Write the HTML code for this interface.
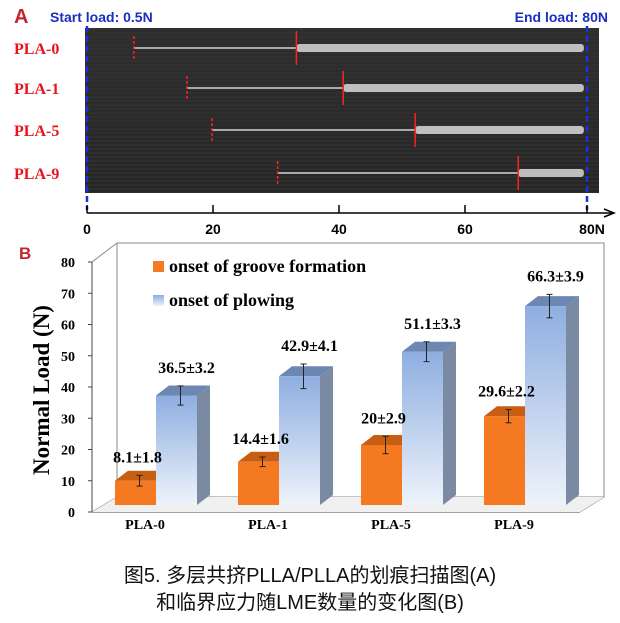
<!DOCTYPE html>
<html><head><meta charset="utf-8"><style>
body{margin:0;background:#fff;width:620px;height:623px;overflow:hidden;position:relative}
svg{position:absolute;left:0;top:0}
</style></head><body>
<svg width="620" height="623" viewBox="0 0 620 623">
<defs>
<linearGradient id="bg" x1="0" y1="0" x2="0" y2="1"><stop offset="0" stop-color="#8eaee0"/><stop offset="1" stop-color="#eef3fb"/></linearGradient>
<linearGradient id="img" x1="0" y1="0" x2="0" y2="1"><stop offset="0" stop-color="#2e2e2e"/><stop offset="1" stop-color="#262626"/></linearGradient>
<pattern id="stripes" width="4" height="4" patternUnits="userSpaceOnUse"><rect width="4" height="2" fill="#333"/></pattern>
</defs>
<g>
<text x="14" y="23" font-family="Liberation Sans, sans-serif" font-weight="bold" font-size="20" fill="#c0282d">A</text>
<text x="50" y="22" font-family="Liberation Sans, sans-serif" font-weight="bold" font-size="14" fill="#1a2fc0">Start load: 0.5N</text>
<text x="608" y="22" text-anchor="end" font-family="Liberation Sans, sans-serif" font-weight="bold" font-size="14" fill="#1a2fc0">End load: 80N</text>
<rect x="85" y="28" width="514" height="165" fill="url(#img)"/>
<rect x="85" y="28" width="514" height="165" fill="url(#stripes)" opacity="0.5"/>
<g id="scratches"></g>
<line x1="87" y1="26" x2="87" y2="210" stroke="#1a2fe0" stroke-width="2.5" stroke-dasharray="6,4"/>
<line x1="587" y1="26" x2="587" y2="210" stroke="#1a2fe0" stroke-width="2.5" stroke-dasharray="6,4"/>
<g font-family="Liberation Sans, sans-serif" font-weight="bold" font-size="14" fill="#000">
<line x1="87" y1="213" x2="612" y2="213" stroke="#000" stroke-width="1.5"/>
<path d="M604,209 L614,213 L604,217" fill="none" stroke="#000" stroke-width="1.5"/>
<line x1="87" y1="205" x2="87" y2="213" stroke="#000" stroke-width="1.5"/>
<line x1="213" y1="205" x2="213" y2="213" stroke="#000" stroke-width="1.5"/>
<line x1="339" y1="205" x2="339" y2="213" stroke="#000" stroke-width="1.5"/>
<line x1="465" y1="205" x2="465" y2="213" stroke="#000" stroke-width="1.5"/>
<line x1="587" y1="205" x2="587" y2="213" stroke="#000" stroke-width="1.5"/>
<text x="87" y="234" text-anchor="middle">0</text>
<text x="213" y="234" text-anchor="middle">20</text>
<text x="339" y="234" text-anchor="middle">40</text>
<text x="465" y="234" text-anchor="middle">60</text>
<text x="592" y="234" text-anchor="middle">80N</text>
</g>
</g>
<g>
<text x="19" y="259" font-family="Liberation Sans, sans-serif" font-weight="bold" font-size="17" fill="#c0282d">B</text>
<g stroke="#888" stroke-width="1" fill="none">
<path d="M117,243 L604,243 L604,497 L117,497 Z"/>
<line x1="92" y1="262" x2="117" y2="243"/>
<line x1="92" y1="512" x2="117" y2="497"/>
<line x1="580" y1="512" x2="604" y2="497"/>
<line x1="92" y1="262" x2="92" y2="512" stroke="#444"/>
<line x1="92" y1="512" x2="580" y2="512" stroke="#444"/>
</g>
<path d="M92,512 L117,497 L604,497 L580,512 Z" fill="#f0f0f0"/>
<g id="yaxis" font-family="Liberation Serif, serif" font-weight="bold" font-size="14"></g>
<text transform="translate(49,390) rotate(-90)" text-anchor="middle" font-family="Liberation Serif, serif" font-weight="bold" font-size="23">Normal Load (N)</text>
<g id="bars"></g>
<g id="xlabels" font-family="Liberation Serif, serif" font-weight="bold" font-size="14"></g>
<g font-family="Liberation Serif, serif" font-weight="bold" font-size="18">
<rect x="153" y="261" width="11" height="11" fill="#f47920"/>
<text x="169" y="272">onset of groove formation</text>
<rect x="153" y="295" width="11" height="11" fill="url(#bg)"/>
<text x="169" y="306">onset of plowing</text>
</g>
</g>
<g font-family="Liberation Sans, 'Noto Sans CJK SC', sans-serif" font-size="20" text-anchor="middle" fill="#111">
<text x="310" y="582">图5. 多层共挤PLLA/PLLA的划痕扫描图(A)</text>
<text x="310" y="609">和临界应力随LME数量的变化图(B)</text>
</g>
</svg>
<script>
const categories=["PLA-0","PLA-1","PLA-5","PLA-9"];
const grooveValues=[8.1,14.4,20,29.6];
const grooveErrors=[1.8,1.6,2.9,2.2];
const plowValues=[36.5,42.9,51.1,66.3];
const plowErrors=[3.2,4.1,3.3,3.9];
const yTicks=[0,10,20,30,40,50,60,70,80];
const grooveStartLoad=[7.5,16,20,30.5];
const plowStartLoad=[33.5,41,52.5,69];
const NS="http://www.w3.org/2000/svg";
function mk(tag,attrs,parent){const e=document.createElementNS(NS,tag);for(const k in attrs)e.setAttribute(k,attrs[k]);parent.appendChild(e);return e;}
const ax=v=>87+v*(587-87)/80;
const rowY=[48,88,130,173];
const sc=document.getElementById('scratches');
categories.forEach((c,i)=>{
  const y=rowY[i],x0=ax(grooveStartLoad[i]),x1=ax(plowStartLoad[i]),xe=ax(79.5);
  const t=mk('text',{x:14,y:y+6,'font-family':'Liberation Serif, serif','font-weight':'bold','font-size':'16',fill:'#e8141b'},sc);
  
  
  t.textContent=c;
  const thin=mk('line',{x1:x0,y1:y,x2:x1,y2:y,stroke:'#aaa','stroke-width':2},sc);
  
  
  const thick=mk('rect',{x:x1,y:y-4,width:xe-x1,height:8,fill:'#cfcfcf',rx:3,opacity:0.9},sc);
  
  
  const d=mk('line',{x1:x0,y1:y-12,x2:x0,y2:y+12,stroke:'#ff2020','stroke-width':1.5,'stroke-dasharray':'3,2'},sc);
  
  
  const s=mk('line',{x1:x1,y1:y-17,x2:x1,y2:y+17,stroke:'#ff2020','stroke-width':1.5},sc);
  
  
});
const base=505,k=3.0,dx=13,dy=-10,bw=41;
const yv=v=>base-v*k;
const tickY=v=>512-v*3.125;
const ya=document.getElementById('yaxis');
yTicks.forEach(v=>{
  const t=mk('text',{x:75,y:tickY(v)+5,'text-anchor':'end'},ya);
  
  
  t.textContent=v;
  mk('line',{x1:88,y1:tickY(v),x2:92,y2:tickY(v),stroke:'#444'},ya);
});
const bars=document.getElementById('bars');
const xl=document.getElementById('xlabels');
function bar3d(x,v,front,top,side,name){
  const y=yv(v),g=mk('g',{},bars);
  
  
  mk('path',{d:`M${x+bw},${y} L${x+bw+dx},${y+dy} L${x+bw+dx},${base+dy} L${x+bw},${base} Z`,fill:side},g);
  mk('path',{d:`M${x},${y} L${x+bw},${y} L${x+bw+dx},${y+dy} L${x+dx},${y+dy} Z`,fill:top},g);
  mk('rect',{x:x,y:y,width:bw,height:base-y,fill:front},g);
}
function err(cx,v,e){
  const g=mk('g',{stroke:'#222','stroke-width':1},bars);
  
  
  mk('line',{x1:cx,y1:yv(v-e),x2:cx,y2:yv(v+e)},g);
  mk('line',{x1:cx-3,y1:yv(v-e),x2:cx+3,y2:yv(v-e)},g);
  mk('line',{x1:cx-3,y1:yv(v+e),x2:cx+3,y2:yv(v+e)},g);
}
function lab(cx,v,e,txt){
  const t=mk('text',{x:cx,y:yv(v+e)-13,'text-anchor':'middle','font-family':'Liberation Serif, serif','font-weight':'bold','font-size':'16'},bars);
  
  
  t.textContent=txt;
}
categories.forEach((c,i)=>{
  const cx=145+123*i,xo=cx-30,xb=cx+11;
  bar3d(xo,grooveValues[i],'#f47920','#c85d14','#b65412','bar-groove-'+c.toLowerCase());
  bar3d(xb,plowValues[i],'url(#bg)','#6d87b3','#7b8aa3','bar-plowing-'+c.toLowerCase());
  err(xo+bw/2+4,grooveValues[i],grooveErrors[i]);
  err(xb+bw/2+4,plowValues[i],plowErrors[i]);
  lab(xo+bw/2+2,grooveValues[i],grooveErrors[i],grooveValues[i]+'±'+grooveErrors[i]);
  lab(xb+bw/2+10,plowValues[i],plowErrors[i],plowValues[i]+'±'+plowErrors[i]);
  const t=mk('text',{x:cx,y:529,'text-anchor':'middle'},xl);
  
  
  t.textContent=c;
});
</script>
</body></html>
